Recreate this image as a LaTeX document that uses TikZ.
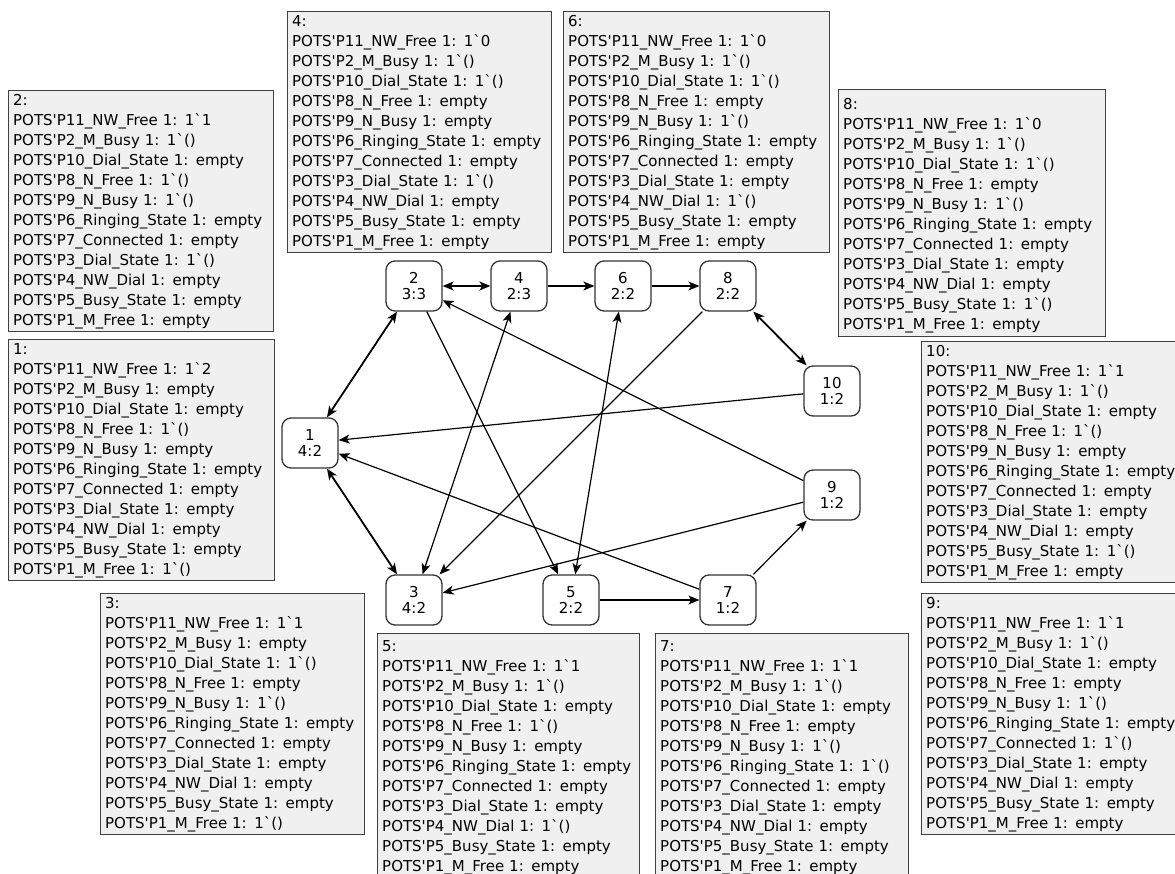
\documentclass[tikz,border=0pt]{standalone}
\usepackage{fontspec}
\newfontfamily\boxfont{DejaVu Sans}
\usetikzlibrary{arrows.meta}
\newcommand\Pq{POTS\textquotesingle P}
\newcommand\one{1\textasciigrave}
\newcommand\hd[1][13.2pt]{\rule{0pt}{#1}\ignorespaces}
\begin{document}
\begin{tikzpicture}[x=1pt,y=-1pt,
  info/.style={draw=black!75, line width=1.4pt, fill=black!6, anchor=north west, align=left,
    inner xsep=4.5pt, inner ysep=2pt, font=\boxfont\fontsize{15}{20}\selectfont},
  state/.style={draw=black!80, line width=1.3pt, fill=white, rounded corners=9pt,
    minimum width=56pt, minimum height=50pt, inner sep=0pt, align=center,
    font=\boxfont\fontsize{15}{16}\selectfont},
  tip/.tip={Stealth[length=11pt,width=9pt,inset=3pt]},
  arc/.style={line width=1.2pt, -tip},
  both/.style={line width=1.2pt, tip-tip},
  bothb/.style={line width=1.8pt, tip-tip}
]
\useasboundingbox (0,0) rectangle (1175,873);

% information boxes
\node[info, text width=256pt] (b2) at (8,90) {\hd 2:\\
\Pq11\_NW\_Free 1: \one1\\
\Pq2\_M\_Busy 1: \one()\\
\Pq10\_Dial\_State 1: empty\\
\Pq8\_N\_Free 1: \one()\\
\Pq9\_N\_Busy 1: \one()\\
\Pq6\_Ringing\_State 1: empty\\
\Pq7\_Connected 1: empty\\
\Pq3\_Dial\_State 1: \one()\\
\Pq4\_NW\_Dial 1: empty\\
\Pq5\_Busy\_State 1: empty\\
\Pq1\_M\_Free 1: empty};

\node[info, text width=257pt] (b1) at (8,339) {\hd 1:\\
\Pq11\_NW\_Free 1: \one2\\
\Pq2\_M\_Busy 1: empty\\
\Pq10\_Dial\_State 1: empty\\
\Pq8\_N\_Free 1: \one()\\
\Pq9\_N\_Busy 1: empty\\
\Pq6\_Ringing\_State 1: empty\\
\Pq7\_Connected 1: empty\\
\Pq3\_Dial\_State 1: empty\\
\Pq4\_NW\_Dial 1: empty\\
\Pq5\_Busy\_State 1: empty\\
\Pq1\_M\_Free 1: \one()};

\node[info, text width=255pt] (b3) at (100,593) {\hd 3:\\
\Pq11\_NW\_Free 1: \one1\\
\Pq2\_M\_Busy 1: empty\\
\Pq10\_Dial\_State 1: \one()\\
\Pq8\_N\_Free 1: empty\\
\Pq9\_N\_Busy 1: \one()\\
\Pq6\_Ringing\_State 1: empty\\
\Pq7\_Connected 1: empty\\
\Pq3\_Dial\_State 1: empty\\
\Pq4\_NW\_Dial 1: empty\\
\Pq5\_Busy\_State 1: empty\\
\Pq1\_M\_Free 1: \one()};

\node[info, text width=255pt] (b4) at (287,11) {\hd 4:\\
\Pq11\_NW\_Free 1: \one0\\
\Pq2\_M\_Busy 1: \one()\\
\Pq10\_Dial\_State 1: \one()\\
\Pq8\_N\_Free 1: empty\\
\Pq9\_N\_Busy 1: empty\\
\Pq6\_Ringing\_State 1: empty\\
\Pq7\_Connected 1: empty\\
\Pq3\_Dial\_State 1: \one()\\
\Pq4\_NW\_Dial 1: empty\\
\Pq5\_Busy\_State 1: empty\\
\Pq1\_M\_Free 1: empty};

\node[info, text width=257pt] (b6) at (563,11) {\hd 6:\\
\Pq11\_NW\_Free 1: \one0\\
\Pq2\_M\_Busy 1: \one()\\
\Pq10\_Dial\_State 1: \one()\\
\Pq8\_N\_Free 1: empty\\
\Pq9\_N\_Busy 1: \one()\\
\Pq6\_Ringing\_State 1: empty\\
\Pq7\_Connected 1: empty\\
\Pq3\_Dial\_State 1: empty\\
\Pq4\_NW\_Dial 1: \one()\\
\Pq5\_Busy\_State 1: empty\\
\Pq1\_M\_Free 1: empty};

\node[info, text width=258pt] (b8) at (838,89) {\hd[18pt]8:\\
\Pq11\_NW\_Free 1: \one0\\
\Pq2\_M\_Busy 1: \one()\\
\Pq10\_Dial\_State 1: \one()\\
\Pq8\_N\_Free 1: empty\\
\Pq9\_N\_Busy 1: \one()\\
\Pq6\_Ringing\_State 1: empty\\
\Pq7\_Connected 1: empty\\
\Pq3\_Dial\_State 1: empty\\
\Pq4\_NW\_Dial 1: empty\\
\Pq5\_Busy\_State 1: \one()\\
\Pq1\_M\_Free 1: empty\rule[-5pt]{0pt}{5pt}};

\node[info, text width=262pt] (b10) at (921,341) {\hd 10:\\
\Pq11\_NW\_Free 1: \one1\\
\Pq2\_M\_Busy 1: \one()\\
\Pq10\_Dial\_State 1: empty\\
\Pq8\_N\_Free 1: \one()\\
\Pq9\_N\_Busy 1: empty\\
\Pq6\_Ringing\_State 1: empty\\
\Pq7\_Connected 1: empty\\
\Pq3\_Dial\_State 1: empty\\
\Pq4\_NW\_Dial 1: empty\\
\Pq5\_Busy\_State 1: \one()\\
\Pq1\_M\_Free 1: empty};

\node[info, text width=262pt] (b9) at (921,593) {\hd 9:\\
\Pq11\_NW\_Free 1: \one1\\
\Pq2\_M\_Busy 1: \one()\\
\Pq10\_Dial\_State 1: empty\\
\Pq8\_N\_Free 1: empty\\
\Pq9\_N\_Busy 1: \one()\\
\Pq6\_Ringing\_State 1: empty\\
\Pq7\_Connected 1: \one()\\
\Pq3\_Dial\_State 1: empty\\
\Pq4\_NW\_Dial 1: empty\\
\Pq5\_Busy\_State 1: empty\\
\Pq1\_M\_Free 1: empty};

\node[info, text width=253pt] (b5) at (377,633) {\hd[16pt]5:\\
\Pq11\_NW\_Free 1: \one1\\
\Pq2\_M\_Busy 1: \one()\\
\Pq10\_Dial\_State 1: empty\\
\Pq8\_N\_Free 1: \one()\\
\Pq9\_N\_Busy 1: empty\\
\Pq6\_Ringing\_State 1: empty\\
\Pq7\_Connected 1: empty\\
\Pq3\_Dial\_State 1: empty\\
\Pq4\_NW\_Dial 1: \one()\\
\Pq5\_Busy\_State 1: empty\\
\Pq1\_M\_Free 1: empty};

\node[info, text width=244pt] (b7) at (655,633) {\hd[16pt]7:\\
\Pq11\_NW\_Free 1: \one1\\
\Pq2\_M\_Busy 1: \one()\\
\Pq10\_Dial\_State 1: empty\\
\Pq8\_N\_Free 1: empty\\
\Pq9\_N\_Busy 1: \one()\\
\Pq6\_Ringing\_State 1: \one()\\
\Pq7\_Connected 1: empty\\
\Pq3\_Dial\_State 1: empty\\
\Pq4\_NW\_Dial 1: empty\\
\Pq5\_Busy\_State 1: empty\\
\Pq1\_M\_Free 1: empty};

% state nodes
\node[state] (n1) at (310,443) {1\\4:2};
\node[state] (n2) at (414,286) {2\\3:3};
\node[state] (n4) at (519,286) {4\\2:3};
\node[state] (n6) at (623,286) {6\\2:2};
\node[state] (n8) at (728,286) {8\\2:2};
\node[state] (n10) at (832,391) {10\\1:2};
\node[state] (n9) at (832,495) {9\\1:2};
\node[state] (n7) at (728,600) {7\\1:2};
\node[state] (n5) at (571,600) {5\\2:2};
\node[state] (n3) at (414,600) {3\\4:2};

% connectors
\draw[bothb] (n1) -- (n2);
\draw[bothb] (n2) -- (n4);
\draw[arc] (n4) -- (n6);
\draw[arc] (n6) -- (n8);
\draw[bothb] (n8) -- (n10);
\draw[arc] (n10) -- (n1);
\draw[arc] (n9) -- (n2);
\draw[arc] (n2) -- (n5);
\draw[both] (n3) -- (n4);
\draw[arc] (n8) -- (n3);
\draw[both] (n5) -- (n6);
\draw[arc] (n9) -- (n3);
\draw[arc] (n7) -- (n1);
\draw[arc] (n5) -- (n7);
\draw[arc] (n7) -- (n9);
\draw[bothb] (n1) -- (n3);
\end{tikzpicture}
\end{document}
